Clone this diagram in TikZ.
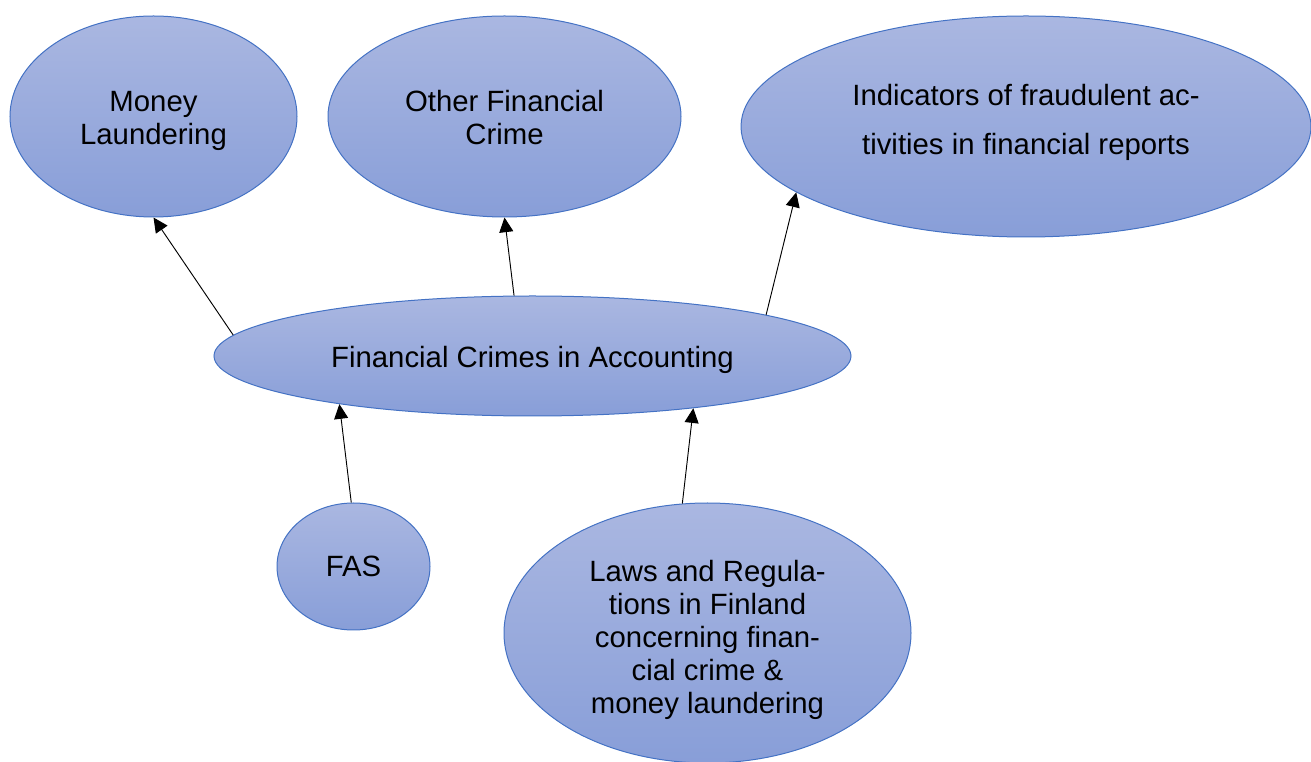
\documentclass[tikz,border=0pt]{standalone}
\usepackage{fontspec}
\setmainfont{Liberation Sans}
\usetikzlibrary{arrows.meta}
\usetikzlibrary{shapes.geometric}

\definecolor{bubbletop}{RGB}{170,183,225}
\definecolor{bubblebottom}{RGB}{136,158,216}
\definecolor{bubbleline}{RGB}{68,114,196}

\tikzset{
  bubble/.style 2 args={ellipse, draw=bubbleline, line width=0.75pt,
    top color=bubbletop, bottom color=bubblebottom, inner sep=0pt,
    minimum width=#1*0.75pt, minimum height=#2*0.75pt},
  words/.style={align=center, inner sep=0pt, font=\fontsize{22}{24.75}\selectfont},
  link/.style={-{Triangle[length=11pt, width=10.5pt]}, line width=0.7pt}
}

\begin{document}
\begin{tikzpicture}[x=0.75pt, y=-0.75pt]
  \useasboundingbox (0,0) rectangle (1311,762);

  % topics
  \node[bubble={287}{201}, label={[words, yshift=-3pt]center:{Money\\Laundering}}]
    (money) at (153.5,116.5) {};
  \node[bubble={353}{201}, label={[words, yshift=-0.75pt]center:{Other Financial\\Crime}}]
    (other) at (504.5,116.5) {};
  \node[bubble={570}{221}, label={[words, font=\fontsize{22}{36.75}\selectfont, yshift=3.4pt]center:{Indicators of fraudulent ac-\\tivities in financial reports}}]
    (indic) at (1026,126.5) {};

  % centre
  \node[bubble={637}{120}, label={[words, yshift=-3pt]center:Financial Crimes in Accounting}]
    (fca) at (532.5,356) {};

  % sources
  \node[bubble={153}{127}, label={[words]center:FAS}] (fas) at (353.5,566.5) {};
  \node[bubble={407}{260}, label={[words, yshift=-5.5pt]center:{Laws and Regula-\\tions in Finland\\concerning finan-\\cial crime \&\\money laundering}}]
    (laws) at (707.5,633) {};

  \draw[link] (fca.176) -- (money.south);
  \draw[link] (fca.107) -- (other.south);
  \draw[link] (fca.10) -- (indic.196);
  \draw[link] (fas.92) -- (fca.194);
  \draw[link] (laws.101) -- (fca.-18);
\end{tikzpicture}
\end{document}
